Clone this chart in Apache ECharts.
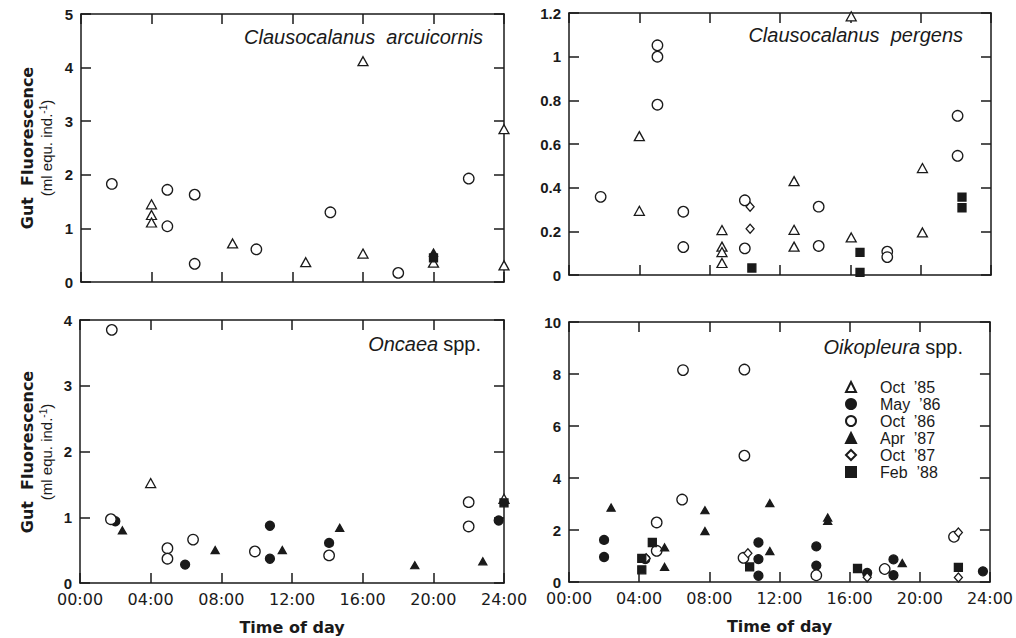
<!DOCTYPE html>
<html><head><meta charset="utf-8">
<script src="https://cdn.jsdelivr.net/npm/echarts/dist/echarts.min.js"></script>
<style>html,body{margin:0;padding:0;background:#fff}#c{width:1016px;height:638px}</style>
</head><body><div id="c"></div>
<script>
// ---------- data ----------
const xTickLabels = ['00:00','04:00','08:00','12:00','16:00','20:00','24:00'];
const seriesNames = ["Oct  \u201985","May  \u201986","Oct  \u201986","Apr  \u201987","Oct  \u201987","Feb  \u201988"];
const panelTitles = ['Clausocalanus  arcuicornis','Clausocalanus  pergens','Oncaea','Oikopleura'];
const yMax = [5, 1.2, 4, 10];
const yStep = [1, 0.2, 1, 2];

// Panel A: Clausocalanus arcuicornis  [hour, value]
const oct85A = [[4.0,1.45],[4.0,1.25],[4.0,1.11],[8.6,0.72],[12.75,0.37],[16,4.12],[16,0.53],[20,0.36],[24,2.85],[24,0.31]];
const may86A = [];
const oct86A = [[1.75,1.83],[4.9,1.72],[4.9,1.04],[6.45,1.63],[6.45,0.34],[9.95,0.61],[14.15,1.30],[18.0,0.17],[22.0,1.93]];
const apr87A = [[20,0.55]];
const oct87A = [];
const feb88A = [[20,0.45]];

// Panel B: Clausocalanus pergens
const oct85B = [[4.0,0.636],[4.0,0.294],[8.7,0.206],[8.7,0.13],[8.7,0.105],[8.7,0.055],[12.8,0.43],[12.8,0.207],[12.8,0.13],[16.05,0.172],[16.05,1.185],[20.1,0.49],[20.1,0.195]];
const may86B = [];
const oct86B = [[1.8,0.358],[5.03,1.052],[5.03,1.0],[5.03,0.78],[6.5,0.29],[6.5,0.128],[10.0,0.342],[10.0,0.122],[14.2,0.313],[14.2,0.133],[18.1,0.107],[18.1,0.082],[22.1,0.729],[22.1,0.546]];
const apr87B = [];
const oct87B = [[10.3,0.313],[10.3,0.212]];
const feb88B = [[10.4,0.032],[16.55,0.104],[16.55,0.012],[22.35,0.357],[22.35,0.308]];

// Panel C: Oncaea spp.
const oct85C = [[4.0,1.52],[24,1.28]];
const may86C = [[2.0,0.94],[5.95,0.28],[10.75,0.87],[10.75,0.37],[14.1,0.61],[23.7,0.95]];
const oct86C = [[1.8,3.85],[1.75,0.97],[4.95,0.53],[4.95,0.37],[6.4,0.66],[9.9,0.48],[14.1,0.42],[22.0,1.23],[22.0,0.86]];
const apr87C = [[2.4,0.80],[7.65,0.50],[11.45,0.50],[14.7,0.84],[18.95,0.27],[22.8,0.33]];
const oct87C = [];
const feb88C = [[24,1.22]];

// Panel D: Oikopleura spp.
const oct85D = [];
const may86D = [[2.0,1.62],[2.0,0.96],[4.35,0.88],[10.8,1.52],[10.8,0.88],[10.8,0.24],[14.1,1.37],[14.1,0.63],[17.0,0.35],[18.5,0.87],[18.5,0.26],[23.6,0.41]];
const oct86D = [[6.5,8.15],[10.0,8.17],[10.0,4.86],[6.45,3.17],[5.0,2.29],[5.0,1.20],[9.95,0.93],[14.1,0.26],[18.0,0.50],[21.95,1.74]];
const apr87D = [[2.4,2.86],[5.45,1.33],[5.45,0.58],[7.75,2.76],[7.75,1.96],[11.45,3.03],[11.45,1.19],[14.75,2.48],[14.75,2.35],[19.0,0.73]];
const oct87D = [[4.4,0.91],[10.2,1.11],[17.0,0.18],[22.2,1.9],[22.2,0.17]];
const feb88D = [[4.15,0.91],[4.15,0.47],[4.75,1.52],[10.3,0.58],[16.45,0.52],[22.2,0.56]];

const panels = [
  [oct85A, may86A, oct86A, apr87A, oct87A, feb88A],
  [oct85B, may86B, oct86B, apr87B, oct87B, feb88B],
  [oct85C, may86C, oct86C, apr87C, oct87C, feb88C],
  [oct85D, may86D, oct86D, apr87D, oct87D, feb88D]
];

// ---------- styles ----------
const INK = '#1a1a1a';
const markerStyles = [
  {symbol:'triangle', size:[10,9], fill:'#fff'},
  {symbol:'circle',   size:9,      fill:INK},
  {symbol:'circle',   size:10.5,   fill:'#fff'},
  {symbol:'triangle', size:[8,7],  fill:INK},
  {symbol:'diamond',  size:[8,9],  fill:'#fff'},
  {symbol:'rect',     size:8,      fill:INK}
];
const grids = [
  {left:81,  top:14,  width:423, height:268},
  {left:569, top:13,  width:422, height:262},
  {left:80,  top:320, width:424, height:263},
  {left:569, top:322, width:423, height:260}
];
const lineStyle = {color:INK, width:1.5};

const xAxes = [], yAxes = [], series = [];
grids.forEach((g, i) => {
  const showX = i >= 2;
  ['bottom','top'].forEach(pos => {
    xAxes.push({
      gridIndex:i, type:'value', min:0, max:24, interval:4, position:pos,
      axisLine:{show:true, onZero:false, lineStyle},
      axisTick:{show:true, inside:true, length:10, lineStyle},
      splitLine:{show:false},
      axisLabel:{show: showX && pos==='bottom', margin:8, color:INK,
        fontFamily:'DejaVu Sans', fontSize:16,
        formatter: v => xTickLabels[Math.round(v/4)]},
      name: (showX && pos==='bottom') ? 'Time of day' : '',
      nameLocation:'middle', nameGap:36,
      nameTextStyle:{fontFamily:'DejaVu Sans', fontWeight:'bold', fontSize:16, color:INK}
    });
  });
  ['left','right'].forEach(pos => {
    yAxes.push({
      gridIndex:i, type:'value', min:0, max:yMax[i], interval:yStep[i], position:pos,
      axisLine:{show:true, onZero:false, lineStyle},
      axisTick:{show:true, inside:true, length:10, lineStyle},
      splitLine:{show:false},
      axisLabel:{show: pos==='left', margin:8, color:INK,
        fontFamily:'Liberation Sans', fontWeight:'bold', fontSize:15}
    });
  });
  panels[i].forEach((data, k) => {
    const st = markerStyles[k];
    series.push({
      type:'scatter', name:seriesNames[k], xAxisIndex:i*2, yAxisIndex:i*2,
      data:data, symbol:st.symbol, symbolSize:st.size, clip:false,
      itemStyle:{color:st.fill, borderColor:INK, borderWidth:1.3, opacity:1},
      emphasis:{disabled:true}
    });
  });
});

const titleFont = {fontFamily:'Liberation Sans', fontSize:20, color:INK, fontWeight:'normal'};
const titles = [
  {text:'{i|'+panelTitles[0]+'}', right:533, top:27},
  {text:'{i|'+panelTitles[1]+'}', right:53, top:25},
  {text:'{i|'+panelTitles[2]+'} {n|spp.}', right:535, top:334},
  {text:'{i|'+panelTitles[3]+'} {n|spp.}', right:53, top:337}
].map(t => Object.assign(t, {padding:0, textStyle:{rich:{
  i:Object.assign({fontStyle:'italic'}, titleFont),
  n:Object.assign({fontStyle:'normal'}, titleFont)}}}));

const yTitle = (cy) => ([
  {type:'text', x:27, y:cy, rotation:Math.PI/2,
   style:{text:'Gut  Fluorescence', fontFamily:'DejaVu Sans', fontWeight:'bold', fontSize:16,
          fill:INK, align:'center', verticalAlign:'middle'}},
  {type:'text', x:46, y:cy, rotation:Math.PI/2,
   style:{text:'(ml equ. ind.{s|-1})', fontFamily:'Liberation Sans', fontSize:15,
          fill:INK, align:'center', verticalAlign:'middle',
          rich:{s:{fontSize:10, verticalAlign:'top', lineHeight:15, padding:[0,0,6,0], fontFamily:'Liberation Sans', fill:INK}}}}
]);

const chart = echarts.init(document.getElementById('c'), null, {renderer:'svg'});
chart.setOption({
  animation:false,
  backgroundColor:'#fff',
  title:titles,
  grid:grids,
  xAxis:xAxes,
  yAxis:yAxes,
  legend:{
    orient:'vertical', left:840, top:374, itemWidth:10, itemHeight:10, itemGap:1,
    selectedMode:false,
    data:seriesNames,
    textStyle:{fontFamily:'Liberation Sans', fontSize:16, color:INK, padding:[0,0,0,19], lineHeight:16}
  },
  graphic: yTitle(148).concat(yTitle(452)),
  series:series
});
</script></body></html>
